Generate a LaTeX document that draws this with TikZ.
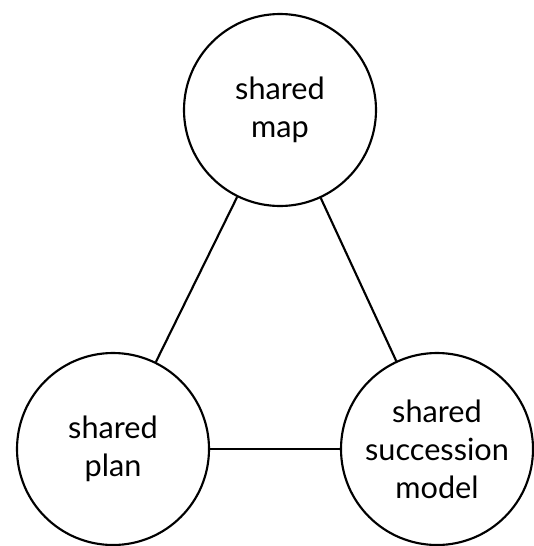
\documentclass[tikz,border=0pt]{standalone}
\usepackage{fontspec}
\setmainfont{Lato}
\begin{document}
\begin{tikzpicture}[x=0.75pt,y=-0.75pt,
  bubble/.style={draw=black,line width=1.6pt,circle,minimum size=192*0.75pt,inner sep=0pt,align=center,font=\fontsize{23}{28.5}\selectfont},
  link/.style={draw=black,line width=1.6pt}]
\useasboundingbox (0,0) rectangle (533,546);
\node[bubble] (map) at (280,110) {shared\\map};
\node[bubble] (plan) at (113,449) {shared\\plan};
\node[bubble] (succ) at (437,449) {shared\\succession\\model};
\draw[link] (map) -- (plan);
\draw[link] (map) -- (succ);
\draw[link] (plan) -- (succ);
\end{tikzpicture}
\end{document}
